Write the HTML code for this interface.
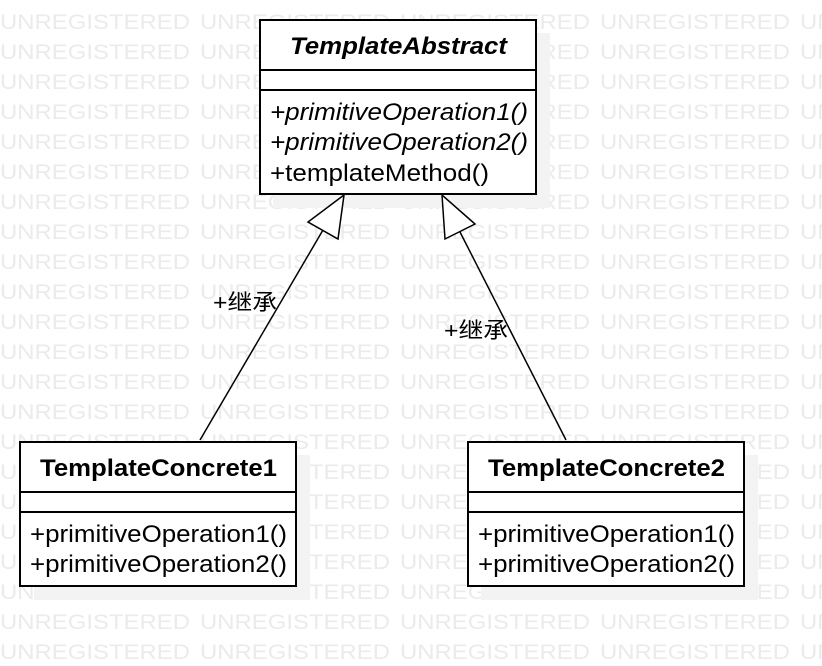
<!DOCTYPE html>
<html><head><meta charset="utf-8"><style>
html,body{margin:0;padding:0;background:#fff;width:822px;height:666px;overflow:hidden}
</style></head><body>
<svg width="822" height="666" xmlns="http://www.w3.org/2000/svg" font-family="Liberation Sans, sans-serif">
<defs>
<g id="wm" fill="#ebebeb" font-size="21">
<text x="0" y="0" textLength="190" lengthAdjust="spacingAndGlyphs">UNREGISTERED</text>
<text x="200" y="0" textLength="190" lengthAdjust="spacingAndGlyphs">UNREGISTERED</text>
<text x="400" y="0" textLength="190" lengthAdjust="spacingAndGlyphs">UNREGISTERED</text>
<text x="600" y="0" textLength="190" lengthAdjust="spacingAndGlyphs">UNREGISTERED</text>
<text x="800" y="0" textLength="190" lengthAdjust="spacingAndGlyphs">UNREGISTERED</text>
</g>
</defs>
<use href="#wm" y="29"/><use href="#wm" y="59"/><use href="#wm" y="89"/><use href="#wm" y="119"/>
<use href="#wm" y="149"/><use href="#wm" y="179"/><use href="#wm" y="209"/><use href="#wm" y="239"/>
<use href="#wm" y="269"/><use href="#wm" y="299"/><use href="#wm" y="329"/><use href="#wm" y="359"/>
<use href="#wm" y="389"/><use href="#wm" y="419"/><use href="#wm" y="449"/><use href="#wm" y="479"/>
<use href="#wm" y="509"/><use href="#wm" y="539"/><use href="#wm" y="569"/><use href="#wm" y="599"/>
<use href="#wm" y="629"/><use href="#wm" y="659"/>
<g fill="#f3f3f3">
<rect x="273" y="33" width="277" height="175"/>
<rect x="34" y="455" width="276" height="145"/>
<rect x="481" y="455" width="277" height="145"/>
</g>
<g fill="#fff" stroke="#000" stroke-width="2">
<rect x="260" y="20" width="276" height="174"/>
<line x1="260" y1="70" x2="536" y2="70"/>
<line x1="260" y1="90" x2="536" y2="90"/>
<rect x="20" y="442" width="276" height="144"/>
<line x1="20" y1="492" x2="296" y2="492"/>
<line x1="20" y1="512" x2="296" y2="512"/>
<rect x="468" y="442" width="276" height="144"/>
<line x1="468" y1="492" x2="744" y2="492"/>
<line x1="468" y1="512" x2="744" y2="512"/>
</g>
<g stroke="#000" stroke-width="1.5" fill="#fff">
<line x1="200" y1="440" x2="323" y2="230"/>
<polygon points="344,195 308,222 338,239"/>
<line x1="566" y1="440" x2="460" y2="232"/>
<polygon points="442,195 445,239 475,224"/>
</g>
<g fill="#000" font-size="24">
<text x="290" y="54" font-weight="bold" font-style="italic" textLength="217" lengthAdjust="spacingAndGlyphs">TemplateAbstract</text>
<text x="270" y="120" font-style="italic" textLength="258" lengthAdjust="spacingAndGlyphs">+primitiveOperation1()</text>
<text x="270" y="150" font-style="italic" textLength="258" lengthAdjust="spacingAndGlyphs">+primitiveOperation2()</text>
<text x="270" y="181" textLength="219" lengthAdjust="spacingAndGlyphs">+templateMethod()</text>
<text x="40" y="476" font-weight="bold" textLength="237" lengthAdjust="spacingAndGlyphs">TemplateConcrete1</text>
<text x="30" y="542" textLength="257" lengthAdjust="spacingAndGlyphs">+primitiveOperation1()</text>
<text x="30" y="572" textLength="257" lengthAdjust="spacingAndGlyphs">+primitiveOperation2()</text>
<text x="488" y="476" font-weight="bold" textLength="237" lengthAdjust="spacingAndGlyphs">TemplateConcrete2</text>
<text x="478" y="542" textLength="257" lengthAdjust="spacingAndGlyphs">+primitiveOperation1()</text>
<text x="478" y="572" textLength="257" lengthAdjust="spacingAndGlyphs">+primitiveOperation2()</text>
</g>
<g fill="#000" font-size="22" font-family="Liberation Sans, Noto Sans CJK SC, sans-serif">
<text x="213" y="310" textLength="64" lengthAdjust="spacingAndGlyphs">+继承</text>
<text x="444" y="338" textLength="64" lengthAdjust="spacingAndGlyphs">+继承</text>
</g>
</svg>
</body></html>
